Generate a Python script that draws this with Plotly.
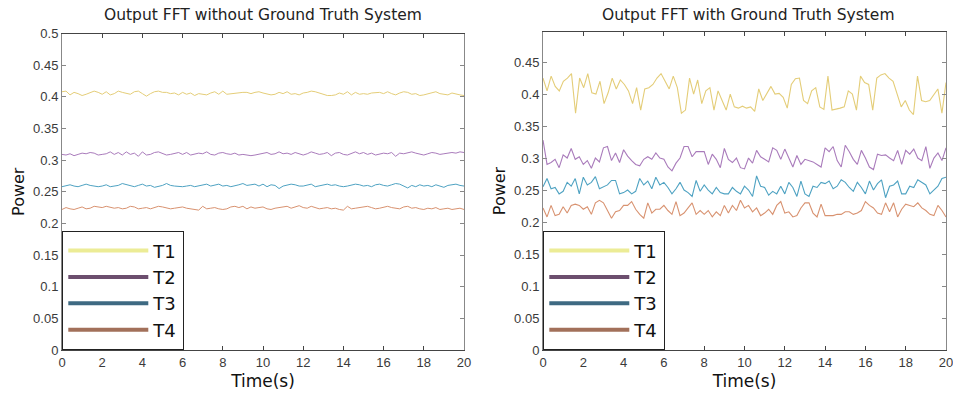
import plotly.graph_objects as go

SERIES = ["T1", "T2", "T3", "T4"]

LEFT_T1 = [0.408,0.409,0.403,0.407,0.405,0.402,0.404,0.406,0.409,0.407,0.404,0.408,0.403,0.405,0.409,0.407,0.406,0.404,0.408,0.409,0.405,0.401,0.405,0.408,0.409,0.407,0.407,0.405,0.406,0.403,0.407,0.404,0.406,0.402,0.405,0.404,0.403,0.406,0.408,0.404,0.409,0.404,0.405,0.405,0.406,0.407,0.407,0.405,0.407,0.408,0.406,0.404,0.403,0.404,0.407,0.405,0.408,0.404,0.405,0.403,0.406,0.407,0.409,0.408,0.406,0.404,0.402,0.402,0.403,0.406,0.404,0.408,0.403,0.407,0.404,0.405,0.404,0.406,0.406,0.407,0.405,0.408,0.405,0.403,0.406,0.408,0.407,0.404,0.405,0.402,0.403,0.405,0.407,0.408,0.405,0.404,0.403,0.406,0.404,0.403,0.402]
LEFT_T2 = [0.309,0.308,0.310,0.307,0.309,0.311,0.310,0.312,0.311,0.308,0.309,0.310,0.313,0.309,0.312,0.308,0.313,0.309,0.311,0.306,0.313,0.308,0.309,0.312,0.313,0.311,0.308,0.309,0.310,0.312,0.309,0.312,0.308,0.309,0.311,0.310,0.313,0.309,0.308,0.311,0.312,0.310,0.309,0.311,0.308,0.309,0.308,0.307,0.308,0.309,0.311,0.312,0.309,0.310,0.313,0.310,0.311,0.309,0.312,0.310,0.308,0.310,0.313,0.311,0.309,0.310,0.312,0.307,0.311,0.312,0.309,0.308,0.310,0.313,0.310,0.312,0.309,0.311,0.308,0.309,0.311,0.310,0.312,0.306,0.311,0.310,0.312,0.313,0.311,0.309,0.308,0.310,0.312,0.311,0.309,0.310,0.311,0.312,0.311,0.313,0.312]
LEFT_T3 = [0.258,0.260,0.261,0.259,0.258,0.260,0.262,0.260,0.259,0.258,0.259,0.261,0.258,0.259,0.260,0.263,0.261,0.259,0.258,0.260,0.262,0.259,0.260,0.257,0.258,0.260,0.263,0.260,0.259,0.258,0.258,0.259,0.260,0.258,0.259,0.261,0.262,0.259,0.261,0.262,0.259,0.260,0.258,0.259,0.261,0.263,0.260,0.261,0.262,0.259,0.262,0.258,0.261,0.260,0.255,0.259,0.260,0.262,0.261,0.259,0.259,0.261,0.262,0.258,0.259,0.260,0.262,0.260,0.261,0.259,0.258,0.259,0.260,0.262,0.261,0.259,0.260,0.258,0.261,0.262,0.260,0.259,0.261,0.263,0.262,0.259,0.256,0.260,0.258,0.261,0.259,0.260,0.258,0.261,0.259,0.257,0.260,0.261,0.262,0.260,0.259]
LEFT_T4 = [0.222,0.225,0.223,0.222,0.224,0.226,0.223,0.224,0.227,0.226,0.225,0.227,0.226,0.224,0.225,0.223,0.224,0.227,0.226,0.223,0.224,0.225,0.223,0.225,0.227,0.226,0.224,0.223,0.224,0.225,0.226,0.224,0.223,0.222,0.221,0.227,0.223,0.224,0.225,0.223,0.222,0.223,0.226,0.227,0.225,0.227,0.223,0.226,0.224,0.225,0.226,0.223,0.222,0.224,0.225,0.226,0.227,0.224,0.226,0.228,0.225,0.224,0.227,0.225,0.223,0.224,0.225,0.223,0.224,0.222,0.221,0.227,0.223,0.224,0.225,0.226,0.227,0.225,0.223,0.224,0.226,0.227,0.225,0.224,0.223,0.226,0.227,0.224,0.225,0.223,0.222,0.224,0.223,0.225,0.222,0.223,0.224,0.222,0.223,0.224,0.222]

RIGHT_T1 = [0.425,0.405,0.428,0.412,0.405,0.420,0.425,0.432,0.370,0.425,0.410,0.432,0.402,0.400,0.420,0.385,0.402,0.425,0.408,0.422,0.415,0.405,0.385,0.410,0.375,0.408,0.410,0.415,0.425,0.432,0.420,0.408,0.428,0.410,0.370,0.375,0.425,0.400,0.422,0.385,0.405,0.410,0.375,0.405,0.390,0.375,0.400,0.380,0.378,0.381,0.378,0.380,0.373,0.408,0.390,0.400,0.412,0.400,0.401,0.395,0.378,0.415,0.424,0.425,0.390,0.385,0.405,0.410,0.380,0.376,0.428,0.375,0.376,0.378,0.380,0.405,0.400,0.375,0.428,0.418,0.415,0.375,0.425,0.430,0.432,0.425,0.420,0.400,0.380,0.390,0.375,0.368,0.428,0.390,0.388,0.390,0.400,0.408,0.370,0.418]
RIGHT_T2 = [0.328,0.290,0.293,0.298,0.285,0.305,0.300,0.315,0.298,0.302,0.290,0.296,0.284,0.300,0.294,0.316,0.318,0.296,0.308,0.293,0.313,0.303,0.296,0.290,0.288,0.298,0.302,0.298,0.308,0.300,0.298,0.286,0.280,0.292,0.300,0.318,0.318,0.302,0.310,0.310,0.310,0.290,0.306,0.298,0.285,0.315,0.298,0.293,0.300,0.285,0.283,0.300,0.292,0.312,0.302,0.298,0.294,0.316,0.312,0.298,0.314,0.300,0.286,0.304,0.290,0.298,0.296,0.294,0.290,0.286,0.316,0.310,0.318,0.296,0.286,0.320,0.310,0.298,0.290,0.312,0.300,0.286,0.282,0.306,0.304,0.305,0.300,0.296,0.312,0.290,0.312,0.306,0.314,0.300,0.296,0.318,0.284,0.300,0.308,0.296,0.316]
RIGHT_T3 = [0.255,0.268,0.252,0.254,0.244,0.248,0.262,0.256,0.268,0.244,0.270,0.258,0.262,0.271,0.252,0.255,0.258,0.265,0.265,0.244,0.246,0.250,0.244,0.248,0.268,0.258,0.264,0.252,0.270,0.258,0.262,0.254,0.244,0.252,0.262,0.250,0.246,0.240,0.265,0.248,0.258,0.250,0.244,0.254,0.246,0.244,0.244,0.254,0.248,0.244,0.256,0.250,0.240,0.272,0.256,0.254,0.242,0.248,0.244,0.256,0.244,0.262,0.254,0.240,0.264,0.244,0.240,0.256,0.254,0.262,0.260,0.264,0.252,0.256,0.266,0.262,0.254,0.248,0.262,0.254,0.244,0.264,0.250,0.260,0.266,0.238,0.256,0.258,0.264,0.244,0.244,0.256,0.254,0.266,0.262,0.258,0.244,0.250,0.256,0.268,0.270]
RIGHT_T4 = [0.222,0.208,0.226,0.210,0.212,0.224,0.214,0.226,0.228,0.226,0.220,0.224,0.212,0.230,0.234,0.230,0.218,0.206,0.216,0.218,0.226,0.226,0.232,0.220,0.212,0.206,0.230,0.214,0.220,0.220,0.226,0.218,0.212,0.232,0.210,0.214,0.222,0.230,0.212,0.218,0.212,0.218,0.208,0.216,0.210,0.226,0.214,0.226,0.218,0.234,0.222,0.226,0.216,0.222,0.210,0.214,0.220,0.212,0.226,0.232,0.214,0.216,0.208,0.210,0.222,0.230,0.230,0.214,0.208,0.228,0.210,0.210,0.210,0.212,0.212,0.216,0.216,0.212,0.214,0.218,0.232,0.226,0.222,0.214,0.212,0.230,0.216,0.230,0.208,0.220,0.228,0.226,0.224,0.230,0.222,0.218,0.212,0.210,0.226,0.218,0.208]

X_TICKS = [0, 2, 4, 6, 8, 10, 12, 14, 16, 18, 20]
TITLES = ["Output FFT without Ground Truth System", "Output FFT with Ground Truth System"]

LINE_COLORS = ["#e4cd78", "#a97bbb", "#4ea2c2", "#d89270"]
LEGEND_COLORS = ["#ecec96", "#6c4e6e", "#3e6a82", "#a2705a"]

T_MAX = 20.0


def times(vals):
    n = len(vals)
    return [T_MAX * i / (n - 1) for i in range(n)]


fig = go.Figure()

panels = [
    ([LEFT_T1, LEFT_T2, LEFT_T3, LEFT_T4], "x", "y", "legend", 1.0),
    ([RIGHT_T1, RIGHT_T2, RIGHT_T3, RIGHT_T4], "x2", "y2", "legend2", 1.1),
]

for series_list, xa, ya, leg, lw in panels:
    for name, vals, col in zip(SERIES, series_list, LINE_COLORS):
        fig.add_trace(go.Scatter(
            x=times(vals), y=vals, mode="lines", name=name,
            line=dict(color=col, width=lw), showlegend=False,
            xaxis=xa, yaxis=ya, hoverinfo="skip"))
    for name, col in zip(SERIES, LEGEND_COLORS):
        fig.add_trace(go.Scatter(
            x=[None], y=[None], mode="lines", name=name,
            line=dict(color=col, width=4), showlegend=True,
            legend=leg, xaxis=xa, yaxis=ya))

tickfont = dict(family="Liberation Sans, Arial, sans-serif", size=13, color="#3a3a3a")
xtitlefont = dict(family="DejaVu Sans, Verdana, sans-serif", size=17, color="#111")
ytitlefont = dict(family="DejaVu Sans, Verdana, sans-serif", size=16, color="#111")

def xaxis(domain, anchor):
    return dict(domain=domain, anchor=anchor, range=[0, T_MAX], tickvals=X_TICKS,
                ticks="inside", ticklen=4, tickcolor="#444", linecolor="#444",
                linewidth=1, showline=True, mirror="ticks", showgrid=False,
                zeroline=False, tickfont=tickfont, automargin=False,
                ticklabeloverflow="allow",
                title=dict(text="Time(s)", font=xtitlefont, standoff=6))

def yaxis(domain, anchor, top):
    return dict(domain=domain, anchor=anchor, range=[0, top], dtick=0.05, tick0=0,
                ticks="inside", ticklen=4, tickcolor="#888", linecolor="#888",
                linewidth=1, showline=True, mirror="ticks", showgrid=False,
                zeroline=False, tickfont=tickfont, automargin=False,
                ticklabeloverflow="allow",
                title=dict(text="Power", font=ytitlefont, standoff=4))

W, H = 953, 399
legend_style = dict(xanchor="left", yanchor="bottom", bgcolor="white",
                    bordercolor="#222", borderwidth=1.3,
                    font=dict(family="DejaVu Sans, Verdana, sans-serif", size=18, color="#111"),
                    tracegroupgap=0, itemwidth=80)

fig.update_layout(
    width=W, height=H,
    margin=dict(l=0, r=0, t=0, b=0),
    paper_bgcolor="white", plot_bgcolor="white",
    xaxis=xaxis([62 / W, 464 / W], "y"),
    yaxis=yaxis([49 / H, 365.5 / H], "x", 0.5),
    xaxis2=xaxis([543 / W, 946 / W], "y2"),
    yaxis2=yaxis([49 / H, 367 / H], "x2", 0.497),
    legend=dict(x=62 / W, y=49 / H, **legend_style),
    legend2=dict(x=543 / W, y=49 / H, **legend_style),
    annotations=[
        dict(text=TITLES[0], xref="x domain", yref="paper", x=0.5, y=(H - 15) / H,
             xanchor="center", yanchor="middle", showarrow=False,
             font=dict(family="DejaVu Sans, Verdana, sans-serif", size=15.5, color="#222")),
        dict(text=TITLES[1], xref="x2 domain", yref="paper", x=0.51, y=(H - 15) / H,
             xanchor="center", yanchor="middle", showarrow=False,
             font=dict(family="DejaVu Sans, Verdana, sans-serif", size=15.5, color="#222")),
    ],
    showlegend=True,
)

fig.write_html("out.html")
